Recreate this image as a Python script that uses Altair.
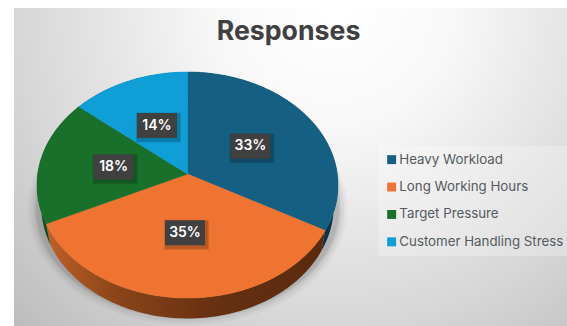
import math
import altair as alt

title = "Responses"
categories = ["Heavy Workload", "Long Working Hours", "Target Pressure", "Customer Handling Stress"]
values = [33, 35, 18, 14]
colors = ["#156082", "#ef7331", "#19702b", "#0f9ed5"]
wall_stops = [
    [("#07324a", 0), ("#07324a", 1)],
    [("#c0602a", 0), ("#8a4518", 0.25), ("#673012", 0.6), ("#5a2a0e", 1)],
    [("#0e4d1e", 0), ("#0e4d1e", 1)],
    [("#0a5c80", 0), ("#0a5c80", 1)],
]

W, H = 567, 326
CX, CY, RX, RY = 187.5, 185.0, 150.5, 113.0
TILT = -0.097
DEPTH = 20.5
BASE_SHRINK = 0.972
LABEL_R = 0.5


def project(theta, r=1.0):
    # Perspective view of a flat disc: theta runs clockwise from 12 o'clock, in turns.
    a = 2 * math.pi * theta
    x, y = r * math.sin(a), -r * math.cos(a)
    k = 1 + TILT * y
    return (CX + RX * x * math.sqrt(1 - TILT ** 2) / k, CY + RY * (y + TILT) / k)


def arc(start, end, step=0.004):
    n = max(2, int((end - start) / step))
    return [project(start + (end - start) * i / n) for i in range(n + 1)]


def feature(name, ring):
    closed = [list(p) for p in ring] + [list(ring[0])]
    return {"type": "Feature", "properties": {"category": name},
            "geometry": {"type": "Polygon", "coordinates": [closed]}}


def geo_data(features):
    return alt.InlineData(values={"type": "FeatureCollection", "features": features},
                          format=alt.DataFormat(property="features", type="json"))


total = sum(values)
edges = [0.0]
for v in values:
    edges.append(edges[-1] + v / total)

projection = alt.Projection(type="identity", scale=1, translate=[0, 0])
px = alt.Scale(domain=[0, W], range=[0, W])
py = alt.Scale(domain=[0, H], range=[0, H])

# Panel backdrop with its soft radial shading
panel = alt.Chart(alt.Data(values=[{"x": 14, "x2": W, "y": 8, "y2": H}])).mark_rect(
    fill=alt.Gradient(gradient="radial", x1=0.58, y1=0.21, r1=0.02, x2=0.58, y2=0.21, r2=0.8,
                      stops=[alt.GradientStop(color="#ffffff", offset=0),
                             alt.GradientStop(color="#f8f8f8", offset=0.25),
                             alt.GradientStop(color="#e0e0e0", offset=0.58),
                             alt.GradientStop(color="#d6d6d6", offset=0.72),
                             alt.GradientStop(color="#bebebe", offset=1)])
).encode(x=alt.X("x:Q", scale=px, axis=None), x2="x2:Q",
         y=alt.Y("y:Q", scale=py, axis=None), y2="y2:Q")

# Soft drop shadow around the disc
glow_layers = []
for grow, alpha in [(9, 0.05), (6, 0.08), (3, 0.12), (1, 0.15)]:
    ring = [(CX + (RX + grow) * math.sin(2 * math.pi * i / 120),
             CY + 24 + (RY + grow - 6) * math.cos(2 * math.pi * i / 120)) for i in range(120)]
    glow_layers.append(alt.Chart(geo_data([feature("glow", ring)])).mark_geoshape(
        fill="#555555", opacity=alpha, strokeWidth=0).project(**projection.to_dict()))

# Extruded wall of each slice; the base rim sits slightly narrower than the top rim
wall_layers = []
for i, name in enumerate(categories):
    rim = arc(edges[i], edges[i + 1])
    base = [(CX + (x - CX) * BASE_SHRINK, y + DEPTH) for x, y in reversed(rim)]
    wall_layers.append(alt.Chart(geo_data([feature(name, rim + base)])).mark_geoshape(
        fill=alt.Gradient(gradient="linear", x1=0, y1=0, x2=1, y2=0,
                          stops=[alt.GradientStop(color=c, offset=o) for c, o in wall_stops[i]]),
        strokeWidth=0).project(**projection.to_dict()))

# Top face of the pie, with the legend attached to its colour scale
apex = project(0, 0)
top_features = [feature(name, [apex] + arc(edges[i], edges[i + 1])) for i, name in enumerate(categories)]
color_scale = alt.Scale(domain=categories, range=colors)
tops = alt.Chart(geo_data(top_features)).mark_geoshape(strokeWidth=0.5).encode(
    color=alt.Color("properties.category:N", scale=color_scale, sort=categories,
                    legend=alt.Legend(title=None, orient="none", legendX=378, legendY=146,
                                      symbolType="square", symbolSize=80, symbolStrokeWidth=0,
                                      labelFont="Inter", labelFontSize=13.3, labelColor="#555b60",
                                      rowPadding=13.4, labelOffset=1, labelLimit=220,
                                      padding=7, fillColor="#ffffff40")),
    stroke=alt.Color("properties.category:N", scale=color_scale, legend=None),
).project(**projection.to_dict())

# Percentage badges placed midway along each slice
rows = []
for i, v in enumerate(values):
    x, y = project((edges[i] + edges[i + 1]) / 2, LABEL_R)
    rows.append({"x": x, "y": y, "label": f"{v}%"})
labels = alt.Chart(alt.Data(values=rows))
xy = dict(x=alt.X("x:Q", scale=px, axis=None), y=alt.Y("y:Q", scale=py, axis=None))
badge_shadow = [labels.mark_rect(width=42 + g, height=27 + g, xOffset=1.5, yOffset=2,
                                 fill="#000000", opacity=0.12).encode(**xy) for g in (3, 1)]
badges = labels.mark_rect(width=40, height=25, fill="#404040").encode(**xy)
badge_text = labels.mark_text(font="Inter", fontWeight=600, fontSize=14, color="#ffffff",
                              align="center", baseline="middle").encode(text="label:N", **xy)

heading = alt.Chart(alt.Data(values=[{"x": 288.5, "y": 32, "t": title}])).mark_text(
    font="Inter", fontWeight="bold", fontSize=26.7, color="#404040", align="center", baseline="middle"
).encode(text="t:N", x=alt.X("x:Q", scale=px, axis=None), y=alt.Y("y:Q", scale=py, axis=None))

chart = alt.layer(panel, *glow_layers, *wall_layers, tops, *badge_shadow, badges, badge_text, heading).properties(
    width=W, height=H, padding=0, autosize=alt.AutoSizeParams(type="none"), background="#ffffff"
).configure_view(stroke=None)

chart.save("out.html", embed_options={"renderer": "svg", "actions": False})
